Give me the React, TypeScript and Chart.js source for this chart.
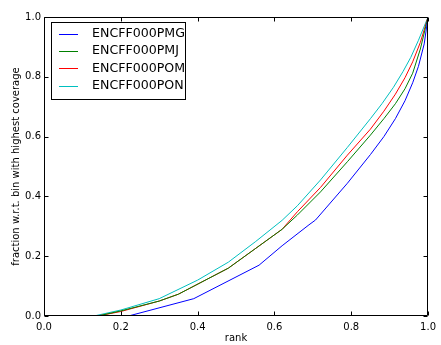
import React, { useEffect, useRef } from "react";
import { Chart, registerables } from "chart.js";

Chart.register(...registerables);

const seriesLabels = ["ENCFF000PMG", "ENCFF000PMJ", "ENCFF000POM", "ENCFF000PON"];
const seriesColors = ["#0000ff", "#008000", "#ff0000", "#00bfbf"];

const pmgRank = [0, 0.22, 0.39, 0.56, 0.62, 0.69, 0.707, 0.79, 0.85, 0.885, 0.915, 0.94, 0.96, 0.975, 0.99, 1.0];
const pmgFraction = [0, 0, 0.058, 0.17, 0.235, 0.305, 0.321, 0.444, 0.54, 0.6, 0.66, 0.72, 0.78, 0.835, 0.91, 1.0];

const pmjRank = [0, 0.14, 0.2, 0.3, 0.35, 0.48, 0.55, 0.62, 0.66, 0.72, 0.79, 0.85, 0.885, 0.915, 0.94, 0.96, 0.98, 1.0];
const pmjFraction = [0, 0, 0.017, 0.05, 0.073, 0.16, 0.225, 0.29, 0.338, 0.415, 0.516, 0.605, 0.66, 0.71, 0.76, 0.812, 0.893, 1.0];

const pomRank = [0, 0.14, 0.2, 0.3, 0.35, 0.48, 0.55, 0.62, 0.66, 0.72, 0.79, 0.85, 0.885, 0.915, 0.94, 0.96, 0.98, 1.0];
const pomFraction = [0, 0, 0.015, 0.05, 0.073, 0.16, 0.225, 0.29, 0.349, 0.43, 0.538, 0.625, 0.685, 0.742, 0.797, 0.85, 0.915, 1.0];

const ponRank = [0, 0.13, 0.2, 0.3, 0.4, 0.48, 0.55, 0.62, 0.66, 0.72, 0.79, 0.85, 0.88, 0.91, 0.935, 0.955, 0.975, 1.0];
const ponFraction = [0, 0, 0.02, 0.058, 0.12, 0.18, 0.248, 0.32, 0.369, 0.455, 0.564, 0.66, 0.71, 0.765, 0.818, 0.865, 0.922, 1.0];

const tickValues = [0, 0.2, 0.4, 0.6, 0.8, 1.0];

const FONT = "'DejaVu Sans', sans-serif";

const zip = (xs: number[], ys: number[]) => xs.map((x, i) => ({ x, y: ys[i] }));

const framePlugin = {
  id: "frameAndTicks",
  afterDraw(chart: any) {
    const { ctx, chartArea } = chart;
    const { left, right, top, bottom } = chartArea;
    const xs = chart.scales.x;
    const ys = chart.scales.y;
    ctx.save();
    ctx.strokeStyle = "#000";
    ctx.lineWidth = 1;
    const L = Math.round(left) + 0.5;
    const R = Math.round(right) - 0.5;
    const T = Math.round(top) + 0.5;
    const B = Math.round(bottom) - 0.5;
    ctx.beginPath();
    ctx.rect(L, T, R - L, B - T);
    ctx.stroke();
    const tl = 4;
    ctx.beginPath();
    tickValues.forEach((v) => {
      const px = Math.round(xs.getPixelForValue(v)) + 0.5;
      ctx.moveTo(px, B);
      ctx.lineTo(px, B - tl);
      ctx.moveTo(px, T);
      ctx.lineTo(px, T + tl);
      const py = Math.round(ys.getPixelForValue(v)) + 0.5;
      ctx.moveTo(L, py);
      ctx.lineTo(L + tl, py);
      ctx.moveTo(R, py);
      ctx.lineTo(R - tl, py);
    });
    ctx.stroke();

    // legend
    const bx = 51.5, by = 22.5, bw = 134, bh = 77;
    ctx.fillStyle = "#fff";
    ctx.fillRect(bx, by, bw, bh);
    ctx.strokeStyle = "#000";
    ctx.strokeRect(bx, by, bw, bh);
    ctx.font = `12.6px ${FONT}`;
    ctx.textBaseline = "middle";
    ctx.textAlign = "left";
    chart.data.datasets.forEach((ds: any, i: number) => {
      const y = 33.5 + i * 17.4;
      ctx.strokeStyle = ds.borderColor;
      ctx.beginPath();
      ctx.moveTo(59, Math.round(y) + 0.5);
      ctx.lineTo(78, Math.round(y) + 0.5);
      ctx.stroke();
      ctx.fillStyle = "#000";
      ctx.fillText(ds.label, 92, y);
    });
    ctx.restore();
  },
};

export default function App() {
  const ref = useRef<HTMLCanvasElement | null>(null);
  useEffect(() => {
    if (!ref.current) return;
    const rankSets = [pmgRank, pmjRank, pomRank, ponRank];
    const fracSets = [pmgFraction, pmjFraction, pomFraction, ponFraction];
    const tickFont = { family: FONT, size: 10 };
    const chart = new Chart(ref.current, {
      type: "line",
      data: {
        datasets: seriesLabels.map((label, i) => ({
          label,
          data: zip(rankSets[i], fracSets[i]),
          borderColor: seriesColors[i],
          backgroundColor: seriesColors[i],
          borderWidth: 1,
          pointRadius: 0,
          tension: 0,
          fill: false,
        })),
      },
      options: {
        animation: false,
        responsive: false,
        events: [],
        layout: { padding: { top: 17, right: 9, left: 0, bottom: 0 } },
        plugins: { legend: { display: false }, tooltip: { enabled: false } },
        scales: {
          x: {
            type: "linear",
            min: 0,
            max: 1,
            afterFit: (s: any) => {
              s.height = 29;
            },
            grid: { display: false, drawTicks: false },
            border: { display: false },
            ticks: {
              stepSize: 0.2,
              padding: 5,
              color: "#000",
              font: tickFont,
              maxRotation: 0,
              autoSkip: false,
              callback: (v: any) => Number(v).toFixed(1),
            },
            title: {
              display: true,
              text: "rank",
              color: "#000",
              font: tickFont,
              padding: { top: 0, bottom: 1 },
            },
          },
          y: {
            type: "linear",
            min: 0,
            max: 1,
            afterFit: (s: any) => {
              s.width = 44;
            },
            grid: { display: false, drawTicks: false },
            border: { display: false },
            ticks: {
              stepSize: 0.2,
              padding: 3,
              color: "#000",
              font: tickFont,
              autoSkip: false,
              callback: (v: any) => Number(v).toFixed(1),
            },
            title: {
              display: true,
              text: "fraction w.r.t. bin with highest coverage",
              color: "#000",
              font: tickFont,
              padding: { top: 10, bottom: 0 },
            },
          },
        },
      },
      plugins: [framePlugin],
    } as any);
    return () => chart.destroy();
  }, []);
  return (
    <div style={{ position: "fixed", left: 0, top: 0, width: 441, height: 345, background: "#fff" }}>
      <canvas ref={ref} width={441} height={345} style={{ width: 441, height: 345 }} />
    </div>
  );
}
